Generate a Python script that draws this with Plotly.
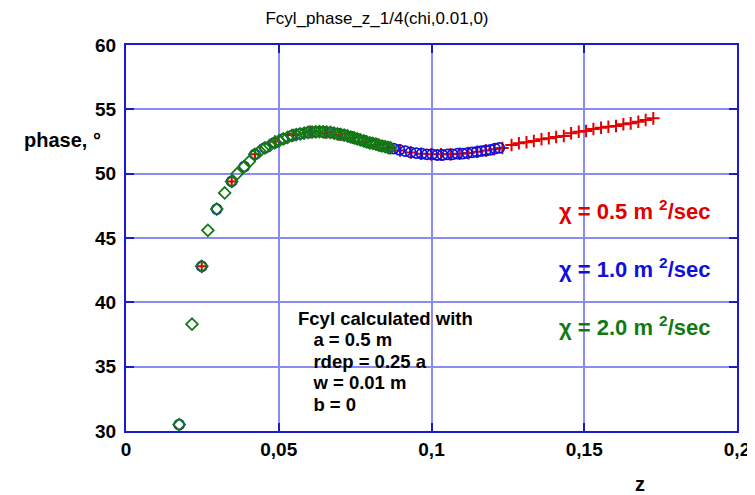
import plotly.graph_objects as go

# chi = 0.5 m2/sec (red crosses)
z_red = [0.0248, 0.0346, 0.0422, 0.0488, 0.0548, 0.0602, 0.0652, 0.0698, 0.0742, 0.0784,
         0.0823, 0.0861, 0.0897, 0.0932, 0.0966, 0.0999, 0.1031, 0.1062, 0.1092, 0.1121,
         0.1150, 0.1178, 0.1205, 0.1232,
         0.1262, 0.1286, 0.1311, 0.1335, 0.1360, 0.1384, 0.1408, 0.1433, 0.1457, 0.1482,
         0.1506, 0.1530, 0.1555, 0.1579, 0.1604, 0.1628, 0.1652, 0.1677, 0.1701, 0.1726]
ph_red = [42.8, 49.4, 51.5, 52.5, 53.0, 53.25, 53.2, 53.05, 52.8, 52.5,
          52.25, 52.0, 51.8, 51.65, 51.55, 51.5, 51.5, 51.5, 51.55, 51.6,
          51.7, 51.8, 51.9, 52.0,
          52.23, 52.36, 52.44, 52.54, 52.67, 52.75, 52.85, 52.93, 53.14, 53.26,
          53.32, 53.47, 53.57, 53.65, 53.70, 53.84, 53.91, 54.04, 54.17, 54.30]

# chi = 1.0 m2/sec (blue open circles)
z_blue = [0.0174, 0.0248, 0.0297, 0.0346, 0.0387, 0.0422,
          0.0455, 0.0486, 0.0515, 0.0543, 0.0570, 0.0596, 0.0621, 0.0645, 0.0669, 0.0692,
          0.0714, 0.0736, 0.0757, 0.0778, 0.0798, 0.0818, 0.0838, 0.0857, 0.0876, 0.0895,
          0.0914, 0.0932, 0.0950, 0.0968, 0.0985, 0.1002, 0.1019, 0.1036, 0.1053, 0.1069,
          0.1085, 0.1101, 0.1117, 0.1133, 0.1148, 0.1163, 0.1178, 0.1193, 0.1208, 0.1222]
ph_blue = [30.5, 42.8, 47.25, 49.4, 50.55, 51.5,
           52.0, 52.4, 52.7, 52.95, 53.1, 53.2, 53.25, 53.25, 53.2, 53.1,
           53.0, 52.85, 52.7, 52.55, 52.4, 52.3, 52.15, 52.05, 51.95, 51.85,
           51.75, 51.65, 51.6, 51.55, 51.5, 51.5, 51.45, 51.45, 51.5, 51.5,
           51.55, 51.55, 51.6, 51.65, 51.7, 51.75, 51.8, 51.85, 51.95, 52.0]

# chi = 2.0 m2/sec (green open diamonds)
z_green = [0.0174, 0.0216, 0.0248, 0.0268, 0.0297, 0.0323, 0.0346, 0.0364, 0.0387, 0.0404,
           0.0422, 0.0438, 0.0455, 0.0471, 0.0486, 0.0501, 0.0515, 0.0529, 0.0543, 0.0557,
           0.0570, 0.0583, 0.0596, 0.0609, 0.0621, 0.0633, 0.0645, 0.0657, 0.0669, 0.0681,
           0.0692, 0.0703, 0.0714, 0.0725, 0.0736, 0.0747, 0.0757, 0.0767, 0.0778, 0.0788,
           0.0798, 0.0808, 0.0818, 0.0828, 0.0838, 0.0848, 0.0857, 0.0866]
ph_green = [30.5, 38.3, 42.8, 45.6, 47.25, 48.5, 49.4, 50.0, 50.55, 50.95,
            51.5, 51.75, 52.0, 52.2, 52.4, 52.55, 52.7, 52.82, 52.95, 53.03,
            53.1, 53.15, 53.2, 53.23, 53.25, 53.26, 53.25, 53.23, 53.2, 53.15,
            53.1, 53.05, 53.0, 52.93, 52.85, 52.78, 52.7, 52.62, 52.55, 52.47,
            52.4, 52.35, 52.3, 52.22, 52.15, 52.1, 52.05, 52.0]

x_ticks = [0, 0.05, 0.1, 0.15, 0.2]
x_tick_text = ["0", "0,05", "0,1", "0,15", "0,2"]
y_ticks = [30, 35, 40, 45, 50, 55, 60]

RED = "#e00000"
BLUE = "#1010d8"
GREEN = "#137a13"
AXIS = "#1a1ad0"
GRID = "#8c8cf0"

fig = go.Figure()
fig.add_trace(go.Scatter(x=z_red, y=ph_red, mode="markers",
                         marker=dict(symbol="cross-thin-open", size=9,
                                     line=dict(color=RED, width=2), color=RED)))
fig.add_trace(go.Scatter(x=z_blue, y=ph_blue, mode="markers",
                         marker=dict(symbol="circle-open", size=10,
                                     line=dict(color=BLUE, width=1.8), color=BLUE)))
fig.add_trace(go.Scatter(x=z_green, y=ph_green, mode="markers",
                         marker=dict(symbol="diamond-open", size=9,
                                     line=dict(color=GREEN, width=1.8), color=GREEN)))

FONT = "Liberation Sans, Arial, sans-serif"
OFF = 8  # page body margin offset
W, H = 755 - OFF, 495 - OFF
L, R, T, B = 126 - OFF, 737 - OFF, 45 - OFF, 431 - OFF
fig.update_layout(
    width=W, height=H,
    margin=dict(l=L, r=W - R, t=T, b=H - B),
    paper_bgcolor="white", plot_bgcolor="white",
    showlegend=False,
    separators=", ",
    title=dict(text="Fcyl_phase_z_1/4(chi,0.01,0)", x=(377 - OFF) / W, xanchor="center",
               y=1 - (18 - OFF) / H, yanchor="middle",
               font=dict(family=FONT, size=17, color="black")),
    xaxis=dict(range=[0, 0.2], tickvals=x_ticks, ticktext=x_tick_text,
               showgrid=True, gridcolor=GRID, gridwidth=2,
               showline=True, linecolor=AXIS, linewidth=2, mirror="ticks",
               ticks="inside", ticklen=8, tickcolor=AXIS, tickwidth=2,
               zeroline=False, ticklabelstandoff=0, automargin=False,
               tickfont=dict(family=FONT, size=19, color="black", weight="bold")),
    yaxis=dict(range=[30, 60], tickvals=y_ticks,
               showgrid=True, gridcolor=GRID, gridwidth=2,
               showline=True, linecolor=AXIS, linewidth=2, mirror="ticks",
               ticks="inside", ticklen=8, tickcolor=AXIS, tickwidth=2,
               zeroline=False, ticklabelstandoff=4, automargin=False,
               tickfont=dict(family=FONT, size=19, color="black", weight="bold")),
)


def px(xp):
    return (xp - 126) / (737 - 126)


def py(yp):
    return (431 - yp) / (431 - 45)


annotations = []
annotations.append(dict(text="<b>phase, °</b>", x=px(62), y=py(140),
                        xanchor="center", yanchor="middle",
                        xref="paper", yref="paper", showarrow=False,
                        font=dict(family=FONT, size=20, color="black")))
annotations.append(dict(text="<b>z</b>", x=px(640), y=py(484),
                        xanchor="center", yanchor="middle",
                        xref="paper", yref="paper", showarrow=False,
                        font=dict(family=FONT, size=20, color="black")))
labels = [("χ = 0.5 m <sup>2</sup>/sec", RED, 210),
          ("χ = 1.0 m <sup>2</sup>/sec", BLUE, 268),
          ("χ = 2.0 m <sup>2</sup>/sec", GREEN, 326)]
for t, c, yp in labels:
    annotations.append(dict(text="<b>" + t + "</b>", x=px(635), y=py(yp),
                            xanchor="center", yanchor="middle",
                            xref="paper", yref="paper", showarrow=False,
                            font=dict(family=FONT, size=22, color=c)))
box = ["Fcyl calculated with", "&nbsp;&nbsp;&nbsp;a = 0.5 m", "&nbsp;&nbsp;&nbsp;rdep = 0.25 a",
       "&nbsp;&nbsp;&nbsp;w = 0.01 m", "&nbsp;&nbsp;&nbsp;b = 0"]
for i, line in enumerate(box):
    yp = 318 + i * 21.5
    annotations.append(dict(text="<b>" + line + "</b>", x=px(296), y=py(yp),
                            xanchor="left", yanchor="middle",
                            xref="paper", yref="paper", showarrow=False,
                            font=dict(family=FONT, size=18.5, color="black")))
fig.update_layout(annotations=annotations)

fig.write_html("out.html")
